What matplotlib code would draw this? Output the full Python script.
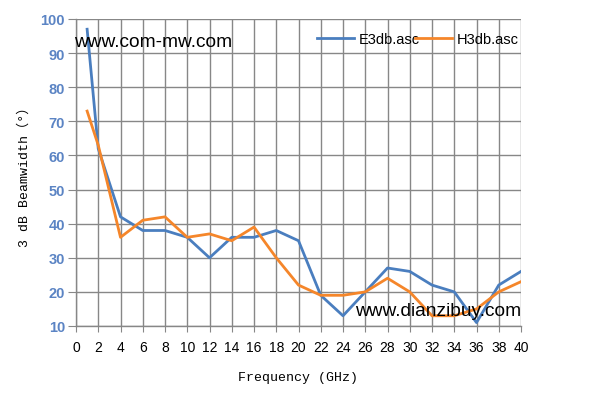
import matplotlib
matplotlib.use("Agg")
import matplotlib.pyplot as plt

freq = [1, 2, 4, 6, 8, 10, 12, 14, 16, 18, 20, 22, 24, 26, 28, 30, 32, 34, 36, 38, 40]
e3db = [97, 62, 42, 38, 38, 36, 30, 36, 36, 38, 35, 19, 13, 20, 27, 26, 22, 20, 11, 22, 26]
h3db = [73, 63, 36, 41, 42, 36, 37, 35, 39, 30, 22, 19, 19, 20, 24, 20, 13, 13, 15, 20, 23]
xticks = list(range(0, 41, 2))
yticks = list(range(10, 101, 10))

fig = plt.figure(figsize=(5.94, 4.10), dpi=100)
ax = fig.add_axes([76/594, 1-327/410, (521-76)/594, (327-20)/410])

grid_c = '#878787'
ax.set_xlim(0, 40)
ax.set_ylim(10, 100)
ax.set_xticks(xticks)
ax.set_yticks(yticks)
ax.grid(True, color=grid_c, linewidth=1.0)
ax.set_axisbelow(True)
for s in ['top', 'right']:
    ax.spines[s].set_visible(False)
for s in ['left', 'bottom']:
    ax.spines[s].set_color(grid_c)
    ax.spines[s].set_linewidth(1.0)

ax.plot(freq, e3db, color='#4a7ebf', linewidth=2.0, label='E3db.asc', solid_joinstyle='round')
ax.plot(freq, h3db, color='#f5862a', linewidth=2.0, label='H3db.asc', solid_joinstyle='round')

ax.tick_params(axis='x', direction='out', length=4, color=grid_c, labelsize=10, labelcolor='black', pad=6)
ax.tick_params(axis='y', direction='out', length=6, color=grid_c, labelsize=10.5, labelcolor='#5b84c4', pad=2)
for lab in ax.get_yticklabels():
    lab.set_fontweight('bold')
    lab.set_family('Liberation Sans')
for lab in ax.get_xticklabels():
    lab.set_family('Liberation Sans')

ax.set_xlabel('Frequency (GHz)', family=['Liberation Mono', 'Noto Sans CJK SC'], fontsize=9.5, labelpad=12)
ax.set_ylabel('3 dB Beamwidth（°）', family=['Liberation Mono', 'Noto Sans CJK SC'], fontsize=9.5, labelpad=7)

leg = ax.legend(loc='upper right', ncol=2, frameon=False, fontsize=10.5,
                bbox_to_anchor=(1.015, 0.985), handlelength=2.5, columnspacing=-0.3,
                handletextpad=0.35, borderaxespad=0.2)
for t in leg.get_texts():
    t.set_family('Liberation Sans')

ax.text(-0.2, 93.3, 'www.com-mw.com', fontsize=13.8, family='Liberation Sans', color='black', va='center', ha='left')
ax.text(40, 14.5, 'www.dianzibuy.com', fontsize=13.8, family='Liberation Sans', color='black', va='center', ha='right')

fig.savefig('out.png', dpi=100)
